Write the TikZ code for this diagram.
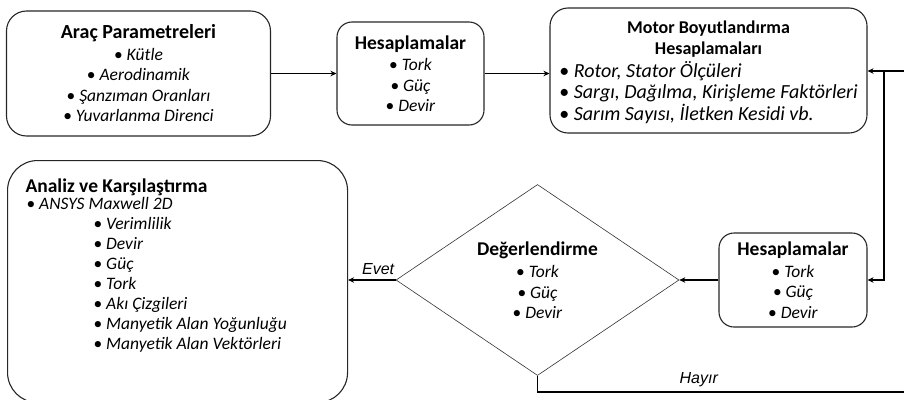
\documentclass[tikz,border=0pt]{standalone}
\usepackage{fontspec}
\setmainfont{Carlito}
\newfontfamily\arialfont{Liberation Sans}
\usetikzlibrary{shapes.geometric}
\usetikzlibrary{arrows.meta}
\newcommand*{\ttl}{\fontsize{19.5}{22}\selectfont\bfseries}
\newcommand*{\ttlk}{\fontsize{18}{20}\selectfont\bfseries}
\newcommand*{\itm}[1]{\textbullet\ \textit{#1}}
\newcommand*{\girinti}{\hspace*{86pt}}

\begin{document}
\begin{tikzpicture}[x=1pt, y=-1pt,
    font=\fontsize{17.5}{20.5}\selectfont,
    kutu/.style={draw=black!85, line width=1.1pt, rounded corners=#1, align=center, inner sep=0pt},
    kutu/.default=18pt,
    ok/.style={line width=1.7pt, -{Stealth[length=6pt, width=5.5pt]}},
    hat/.style={line width=1.7pt},
    etiket/.style={font=\arialfont\itshape\fontsize{16}{19}\selectfont}]
    \useasboundingbox (0,0) rectangle (904,399);
        \node [kutu=20pt, minimum width=264pt, minimum height=125pt] (arac) at (138.5,73.5)
            {{\fontsize{20}{22}\selectfont\bfseries Araç Parametreleri}\\[1pt] \itm{Kütle}\\ \itm{Aerodinamik}\\ \itm{Şanzıman Oranları}\\ \itm{Yuvarlanma Direnci}};
        \node [kutu=15pt, minimum width=147pt, minimum height=103pt] (hesap1) at (410.5,73.5)
            {{\ttl Hesaplamalar}\\[1pt] \itm{Tork}\\ \itm{Güç}\\ \itm{Devir}};
        \node [kutu, minimum width=317pt, minimum height=125pt] (motor) at (708.5,70.5)
            {{\ttlk\rule{0pt}{20pt}Motor Boyutlandırma}\\ {\ttlk Hesaplamaları}\\[3pt]
             {\fontsize{20}{20.5}\selectfont\begin{tabular}[t]{@{}l@{}}\itm{Rotor, Stator Ölçüleri}\\ \itm{Sargı, Dağılma, Kirişleme Faktörleri}\\ \itm{Sarım Sayısı, İletken Kesidi vb.}\end{tabular}}};
        \node [kutu=15pt, minimum width=148pt, minimum height=94pt] (hesap2) at (793,280)
            {{\ttl Hesaplamalar}\\[1pt] \itm{Tork}\\ \itm{Güç}\\ \itm{Devir}};
        \node [draw=black!80, line width=0.6pt, shape=diamond, aspect=1.48, minimum width=283pt, minimum height=191pt, align=center, inner sep=0pt] (deger) at (537.5,280)
            {{\ttl Değerlendirme}\\[2pt] \itm{Tork}\\ \itm{Güç}\\ \itm{Devir}};
        \node [kutu=30pt, anchor=north west] (analiz) at (7,160)
            {\parbox[t][242pt][t]{340pt}{\raggedright\baselineskip=20pt\vspace*{18pt}%
             \hspace*{18pt}{\ttl Analiz ve Karşılaştırma}\\[-3pt]
             \hspace*{19pt}\itm{ANSYS Maxwell 2D}\\
             \girinti\itm{Verimlilik}\\
             \girinti\itm{Devir}\\
             \girinti\itm{Güç}\\
             \girinti\itm{Tork}\\
             \girinti\itm{Akı Çizgileri}\\
             \girinti\itm{Manyetik Alan Yoğunluğu}\\
             \girinti\itm{Manyetik Alan Vektörleri}\par}};
        \coordinate (sagust) at (904,71);
        \coordinate (kose) at (884,71);
        \coordinate (sagalt) at (904,392);
        \draw [ok] (arac.east) -- (hesap1.west);
        \draw [ok] (hesap1.east) -- (hesap1.east -| motor.west);
        \draw [ok] (sagust) -- (sagust -| motor.east);
        \draw [ok] (kose) |- (hesap2.east);
        \draw [ok] (hesap2.west) -- (deger.east);
        \draw [ok] (deger.west) -- (deger.west -| analiz.east) node [etiket, pos=0.37, above=1pt] {Evet};
        %\draw [ok] (sagalt) |- (sagust);
        \draw [hat] (deger.south) |- (sagalt) node [etiket, pos=0.72, above=1pt] {Hayır};
    \end{tikzpicture}
\end{document}
